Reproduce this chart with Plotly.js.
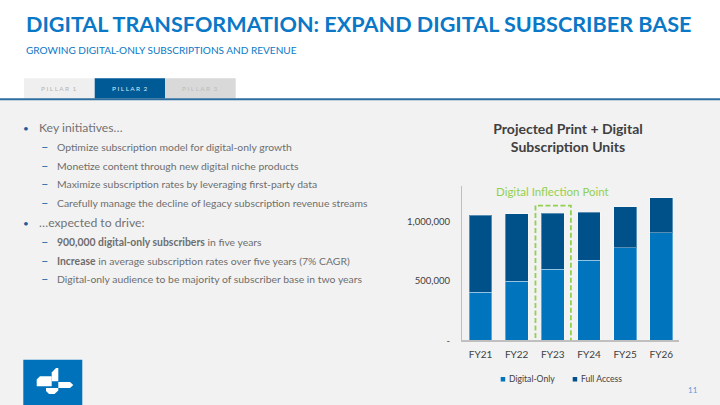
<!DOCTYPE html>
<html><head><meta charset="utf-8">
<script src="https://cdn.plot.ly/plotly-3.0.1.min.js"></script>
<style>html,body{margin:0;padding:0;background:#f2f2f2;}#chart{width:720px;height:405px;}</style>
</head><body><div id="chart"></div>
<script>
// ---- data ----
const years = ["FY21","FY22","FY23","FY24","FY25","FY26"];
const digitalOnly = [405000, 497000, 599000, 675000, 778000, 905000];
const fullAccess  = [649000, 570000, 472000, 404000, 349000, 295000];
const yTickVals = [0, 500000, 1000000];
const yTickText = ["-", "500,000", "1,000,000"];
const seriesNames = ["Digital-Only", "Full Access"];
const seriesColors = ["#0075be", "#00518a"];
const chartTitle = "Projected Print + Digital<br>Subscription Units";
const highlightYear = "FY23";
const highlightLabel = "Digital Inflection Point";
const pageTitle = "DIGITAL TRANSFORMATION: EXPAND DIGITAL SUBSCRIBER BASE";
const pageSubtitle = "GROWING DIGITAL-ONLY SUBSCRIPTIONS AND REVENUE";
const tabs = ["P I L L A R &nbsp;1", "P I L L A R &nbsp;2", "P I L L A R &nbsp;3"];
const bullets = [
  {lvl:0, text:"Key initiatives…"},
  {lvl:1, text:"Optimize subscription model for digital-only growth"},
  {lvl:1, text:"Monetize content through new digital niche products"},
  {lvl:1, text:"Maximize subscription rates by leveraging first-party data"},
  {lvl:1, text:"Carefully manage the decline of legacy subscription revenue streams"},
  {lvl:0, text:"…expected to drive:"},
  {lvl:1, text:"<b>900,000 digital-only subscribers</b> in five years"},
  {lvl:1, text:"<b>Increase</b> in average subscription rates over five years (7% CAGR)"},
  {lvl:1, text:"Digital-only audience to be majority of subscriber base in two years"}
];
const pageNumber = "11";

// ---- helpers (pixel -> paper) ----
const W = 720, H = 405;
const px = x => x / W;
const py = y => 1 - y / H;
const FONT = "Lato, 'Open Sans', sans-serif";

const traces = seriesNames.map((n, i) => ({
  type:"bar", name:n, x:years, y:[digitalOnly, fullAccess][i], showlegend:false,
  marker:{color:seriesColors[i], line:{color:"rgba(255,255,255,0.35)", width:1}}
}));

const shapes = [];
const annotations = [];
// header white band
shapes.push({type:"rect", xref:"paper", yref:"paper", x0:0, x1:1, y0:py(99), y1:1,
  fillcolor:"#ffffff", line:{width:0}, layer:"below"});
// tabs
const tabX = [24, 94.7, 165, 235.7];
const tabFill = ["#efefef", "#005a96", "#d9d9d9"];
const tabText = ["#b5b5b5", "#dce8f2", "#bcbcbc"];
for (let i = 0; i < 3; i++) {
  shapes.push({type:"rect", xref:"paper", yref:"paper", x0:px(tabX[i]), x1:px(tabX[i+1]),
    y0:py(98.5), y1:py(78.3), fillcolor:tabFill[i], line:{width:0}, layer:"below"});
  annotations.push({xref:"paper", yref:"paper", x:px((tabX[i]+tabX[i+1])/2), y:py(88.7),
    text:tabs[i], showarrow:false, xanchor:"center", yanchor:"middle",
    font:{family:FONT, size:6.5, color:tabText[i]}});
}
// blue rule
shapes.push({type:"line", xref:"paper", yref:"paper", x0:0, x1:1, y0:py(99.3), y1:py(99.3),
  line:{color:"#2e6e9e", width:2}});
// page title/subtitle
annotations.push({xref:"paper", yref:"paper", x:px(24), y:py(24.5), text:"<b>"+pageTitle+"</b>",
  showarrow:false, xanchor:"left", yanchor:"middle", font:{family:FONT, size:21.6, color:"#0a78c6"}});
annotations.push({xref:"paper", yref:"paper", x:px(23.5), y:py(50.5), text:pageSubtitle,
  showarrow:false, xanchor:"left", yanchor:"middle", font:{family:FONT, size:10.05, color:"#0a78c6"}});
// bullets
const rowY = [127.5, 147.3, 165.7, 184, 202.7, 222.7, 242, 260.7, 279];
bullets.forEach((b, i) => {
  if (b.lvl === 0) {
    annotations.push({xref:"paper", yref:"paper", x:px(26), y:py(rowY[i]), text:"•",
      showarrow:false, xanchor:"center", yanchor:"middle", font:{family:FONT, size:10, color:"#1f5c99"}});
    annotations.push({xref:"paper", yref:"paper", x:px(36.5), y:py(rowY[i]), text:b.text,
      showarrow:false, xanchor:"left", yanchor:"middle", font:{family:FONT, size:12.2, color:"#727272"}});
  } else {
    annotations.push({xref:"paper", yref:"paper", x:px(45), y:py(rowY[i]), text:"–",
      showarrow:false, xanchor:"center", yanchor:"middle", font:{family:FONT, size:13, color:"#2f6fa8"}});
    annotations.push({xref:"paper", yref:"paper", x:px(54.5), y:py(rowY[i]), text:b.text,
      showarrow:false, xanchor:"left", yanchor:"middle", font:{family:FONT, size:10.4, color:"#6e6e6e"}});
  }
});
// highlight box around FY23
const hi = years.indexOf(highlightYear);
shapes.push({type:"rect", xref:"x", yref:"y", x0:hi-0.48, x1:hi+0.5, y0:-37000, y1:1135000,
  line:{color:"#92d050", width:1.8, dash:"5px,2.5px"}, fillcolor:"rgba(0,0,0,0)"});
annotations.push({xref:"x", yref:"paper", x:hi, y:py(191), text:highlightLabel, showarrow:false,
  xanchor:"center", yanchor:"middle", font:{family:FONT, size:11.5, color:"#92d050"}});
// custom legend
const legX = [500.7, 572.7];
seriesNames.forEach((n, i) => {
  shapes.push({type:"rect", xref:"paper", yref:"paper", x0:px(legX[i]), x1:px(legX[i]+4.5),
    y0:py(381.5), y1:py(377), fillcolor:seriesColors[i], line:{width:0}});
  annotations.push({xref:"paper", yref:"paper", x:px(legX[i]+6.5), y:py(379.3), text:n, showarrow:false,
    xanchor:"left", yanchor:"middle", font:{family:FONT, size:8.6, color:"#404040"}});
});
// logo
shapes.push({type:"rect", xref:"paper", yref:"paper", x0:px(23.3), x1:px(82.3), y0:0, y1:py(359.7),
  fillcolor:"#0072bc", line:{width:0}});
function pathPx(pts){ return "M" + pts.map(p => px(p[0]) + "," + py(p[1])).join(" L") + " Z"; }
const logoParts = [
  [[51.7,381.3],[51.7,372.5],[56,368],[58.3,368],[58.3,381.3]],
  [[36.7,386.3],[36.7,379.5],[40,376.3],[51.7,376.3],[51.7,386.3]],
  [[58.3,382],[70,382],[73.3,385],[70,388],[58.3,388]],
  [[46,388],[58.3,388],[58.3,390.5],[54.5,394],[49,394],[46,391]]
];
logoParts.forEach(p => shapes.push({type:"path", xref:"paper", yref:"paper", path:pathPx(p),
  fillcolor:"#ffffff", line:{width:0}}));
// page number
annotations.push({xref:"paper", yref:"paper", x:px(693), y:py(389.5), text:pageNumber, showarrow:false,
  xanchor:"center", yanchor:"middle", font:{family:FONT, size:8, color:"#5b9bd5"}});

const layout = {
  width:W, height:H, margin:{l:0, r:0, t:0, b:0},
  paper_bgcolor:"#f2f2f2", plot_bgcolor:"rgba(0,0,0,0)",
  barmode:"stack", bargap:0.37, showlegend:false,
  font:{family:FONT, color:"#404040"},
  title:{text:"<b>"+chartTitle+"</b>", xref:"paper", yref:"paper", x:px(568), y:py(134),
    xanchor:"center", yanchor:"middle", font:{family:FONT, size:14, color:"#404040"}},
  xaxis:{domain:[px(462.4), px(679.4)], type:"category", range:[-0.5, 5.5],
    showline:true, linecolor:"#bfbfbf", linewidth:1.5, showgrid:false, ticks:"",
    tickfont:{family:FONT, size:10, color:"#404040"}, ticklabelstandoff:4, fixedrange:true},
  yaxis:{domain:[py(340.3), py(186)], range:[0, 1300000], tickvals:yTickVals, ticktext:yTickText,
    showline:true, linecolor:"#bfbfbf", linewidth:1.5, showgrid:false, zeroline:false, ticks:"",
    tickfont:{family:FONT, size:9.5, color:"#404040"}, ticklabelstandoff:9, fixedrange:true},
  shapes:shapes, annotations:annotations
};
Plotly.newPlot("chart", traces, layout, {displayModeBar:false, staticPlot:true});
</script></body></html>
